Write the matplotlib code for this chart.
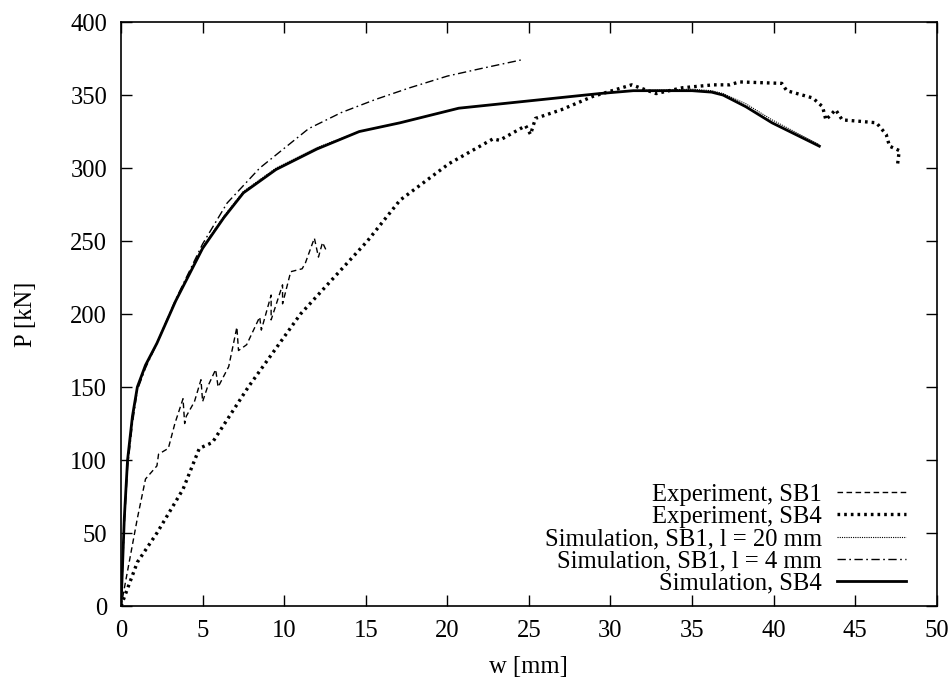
import matplotlib
matplotlib.use("Agg")
import matplotlib.pyplot as plt

plt.rcParams['font.family'] = ['Liberation Serif', 'DejaVu Serif']
plt.rcParams['font.size'] = 17.7

# Experiment, SB1
exp_sb1_w = [0, 0.5, 1.0, 1.5, 2.2, 2.3, 2.9, 3.3, 3.8, 3.9, 4.0, 4.5, 4.9, 5.0, 5.3, 5.8, 5.95,
             6.6, 7.1, 7.2, 7.7, 8.5, 8.6, 9.2, 9.2, 9.9, 9.9, 10.4, 11.1, 11.3, 11.85, 12.1,
             12.35, 12.6]
exp_sb1_p = [0, 30, 60, 87, 96, 104, 108, 125, 142, 125, 130, 140, 155, 140, 150, 162, 150,
             164, 191, 175, 179, 198, 189, 213, 196, 220, 207, 229, 231, 235, 252, 239,
             249, 243]

# Experiment, SB4
exp_sb4_w = [0, 0.5, 1.0, 2.2, 3.8, 4.8, 5.2, 5.6, 7.8, 11.0, 15.1, 17.1, 20.1, 22.8, 23.2,
             24.8, 25.1, 25.4, 27.0, 28.9, 31.3, 32.8, 34.4, 36.3, 37.3, 37.9, 40.5, 40.8,
             42.4, 43.0, 43.2, 43.8, 44.2, 45.3, 46.3, 46.9, 47.1, 47.7, 47.6]
exp_sb4_p = [0, 15, 30, 50, 80, 108, 110, 112, 150, 200, 250, 278, 303, 320, 319,
             329, 323, 334, 340, 349, 357, 351, 355, 357, 357, 359, 358, 353,
             348, 342, 333, 340, 333, 332, 331, 323, 315, 312, 303]

# Simulation, SB4
sim_sb4_w = [0, 0.2, 0.4, 0.7, 1.0, 1.5, 2.2, 3.35, 5.0, 6.3, 7.5, 9.5, 12.0, 14.6, 17.1,
             20.7, 25.0, 29.3, 31.4, 35.0, 36.2, 36.9, 38.3, 39.9, 42.8]
sim_sb4_p = [0, 60, 100, 130, 150, 165, 180, 209, 245, 266, 283, 299, 313, 325, 331,
             341, 346, 351, 353, 353, 352, 350, 342, 331, 315]

# Simulation, SB1, l = 20 mm
sim_l20_w = [0, 0.2, 0.4, 0.7, 1.0, 1.5, 2.2, 3.35, 5.0, 6.3, 7.5, 9.5, 12.0, 14.6, 17.1,
             20.7, 25.0, 29.3, 31.4, 35.0, 36.2, 36.9, 38.3, 39.9, 42.8]
sim_l20_p = [0, 58, 98, 128, 149, 164, 180, 209, 246, 267, 284, 300, 314, 325, 331,
             341, 346, 351, 353, 354, 353, 351, 344, 333, 316]

# Simulation, SB1, l = 4 mm
sim_l4_w = [0, 0.2, 0.4, 0.7, 1.0, 1.5, 2.2, 3.35, 5.0, 6.5, 8.5, 11.5, 13.5, 15.6, 17.7,
            20.0, 22.0, 24.5]
sim_l4_p = [0, 55, 95, 125, 148, 163, 180, 210, 248, 276, 300, 327, 338, 347, 355,
            363, 368, 374]

fig = plt.figure(figsize=(9.53, 6.79), dpi=100)
ax = fig.add_axes([0.127, 0.1075, 0.856, 0.86])

ax.plot(exp_sb1_w, exp_sb1_p, color='black', lw=1.0, linestyle=(0, (4, 2.5)),
        label='Experiment, SB1')
ax.plot(exp_sb4_w, exp_sb4_p, color='black', lw=2.4, linestyle=(0, (0.8, 1.2)),
        label='Experiment, SB4')
ax.plot(sim_l20_w, sim_l20_p, color='black', lw=0.8, linestyle=(0, (1, 1)),
        label='Simulation, SB1, l = 20 mm')
ax.plot(sim_l4_w, sim_l4_p, color='black', lw=1.0, linestyle=(0, (6, 2.5, 1.2, 2.5)),
        label='Simulation, SB1, l = 4 mm')
ax.plot(sim_sb4_w, sim_sb4_p, color='black', lw=2.0, label='Simulation, SB4')

ax.set_xlim(0, 50)
ax.set_ylim(0, 400)
ax.set_xticks(range(0, 51, 5))
ax.set_yticks(range(0, 401, 50))
ax.tick_params(direction='in', length=8, width=1, top=True, right=True, pad=10)
for s in ax.spines.values():
    s.set_linewidth(1.2)

ax.set_xlabel('w [mm]', labelpad=10)
ax.set_ylabel('P [kN]', labelpad=24)

ax.legend(loc='lower right', frameon=False, markerfirst=False, handlelength=2.8,
          handletextpad=0.6, labelspacing=0.0, borderaxespad=0.3,
          bbox_to_anchor=(0.983, -0.01))

fig.savefig('out.png', dpi=100)
